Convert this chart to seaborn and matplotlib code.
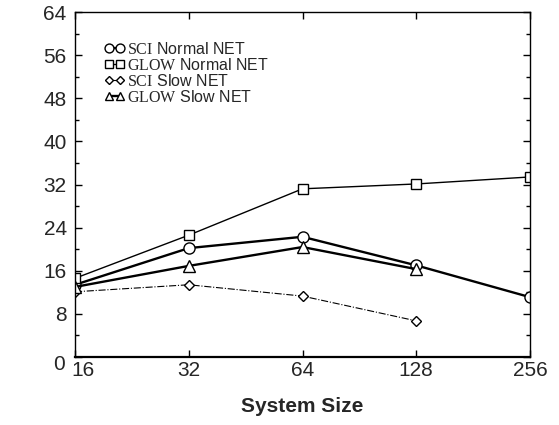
import matplotlib
matplotlib.use("Agg")
import matplotlib.pyplot as plt
import matplotlib.transforms as mtransforms
import seaborn as sns
import pandas as pd

# data
sizes = [16, 32, 64, 128, 256]
sci_normal = [13.4, 20.2, 22.3, 17.0, 11.1]
glow_normal = [14.6, 22.6, 31.2, 32.1, 33.4]
sci_slow = [12.1, 13.4, 11.3, 6.7]
glow_slow = [13.0, 16.9, 20.4, 16.3]

labels = [r"$\mathrm{SCI}$ Normal NET", r"$\mathrm{GLOW}$ Normal NET",
          r"$\mathrm{SCI}$ Slow NET", r"$\mathrm{GLOW}$ Slow NET"]

sns.set_style("ticks")
plt.rcParams['font.family'] = ['Liberation Sans', 'DejaVu Sans']
plt.rcParams['mathtext.fontset'] = 'custom'
plt.rcParams['mathtext.rm'] = 'Liberation Serif'

fig = plt.figure(figsize=(5.59, 4.25), dpi=100)
ax = fig.add_axes([75 / 559, 1 - 357 / 425, (530 - 75) / 559, (357 - 12) / 425])

series = [
    (sci_normal, labels[0], 'o', '-', 1.7, 8),
    (glow_normal, labels[1], 's', '-', 1.0, 7),
    (sci_slow, labels[2], 'D', '-.', 0.8, 5),
    (glow_slow, labels[3], '^', '-', 1.7, 8),
]

for vals, lab, mk, ls, lw, ms in series:
    df = pd.DataFrame({'size': sizes[:len(vals)], 'val': vals})
    sns.lineplot(data=df, x='size', y='val', ax=ax, color='black', label=lab,
                 marker=mk, linestyle=ls, linewidth=lw, markersize=ms,
                 markerfacecolor='white', markeredgecolor='black',
                 markeredgewidth=1.0)

ax.set_xscale('log', base=2)
ax.set_xlim(16, 256)
ax.set_xticks(sizes)
ax.set_xticklabels([str(s) for s in sizes])
ax.minorticks_off()
ax.set_ylim(0, 64)
ax.set_yticks(range(0, 65, 8))
ax.set_yticks(range(4, 64, 8), minor=True)
ax.tick_params(axis='both', which='both', direction='in', top=True, right=True,
               labelsize=15, color='black', width=1.0)
ax.tick_params(which='major', length=5)
ax.tick_params(which='minor', length=3)
ax.tick_params(axis='x', pad=3)
ax.tick_params(axis='y', pad=6)
for sp in ax.spines.values():
    sp.set_color('black')
    sp.set_linewidth(1.0)
ax.spines['bottom'].set_linewidth(1.6)

# corner labels "0" and "16" are nudged apart like the original
ax.get_xticklabels()[0].set_transform(
    ax.get_xticklabels()[0].get_transform()
    + mtransforms.ScaledTranslation(8 / 100, 0, fig.dpi_scale_trans))
ax.get_yticklabels()[0].set_transform(
    ax.get_yticklabels()[0].get_transform()
    + mtransforms.ScaledTranslation(-2 / 100, -5 / 100, fig.dpi_scale_trans))

ax.set_ylabel('')
ax.set_xlabel('System Size', fontsize=15, fontweight='bold', labelpad=12)

leg = ax.legend(loc='upper left', bbox_to_anchor=(0.05, 0.935), frameon=False,
                numpoints=2, handlelength=1.3, handletextpad=0.15,
                labelspacing=0.0, fontsize=11.5, borderaxespad=0,
                markerscale=0.8)

fig.savefig('out.png', dpi=100)
